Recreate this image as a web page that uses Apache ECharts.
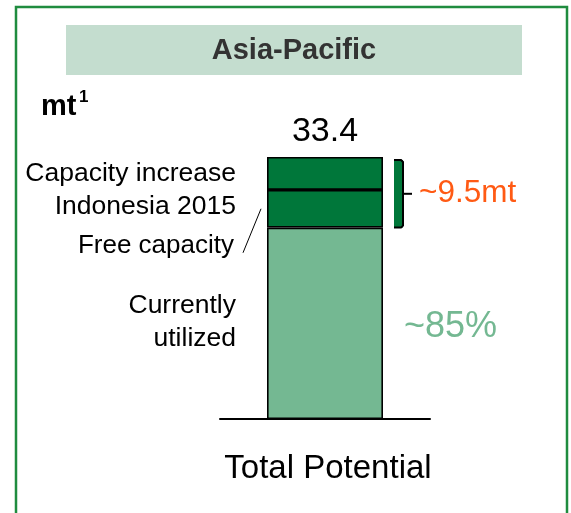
<!DOCTYPE html>
<html>
<head>
<meta charset="utf-8">
<script src="https://cdn.jsdelivr.net/npm/echarts@6/dist/echarts.min.js"></script>
<style>
  html, body { margin: 0; padding: 0; background: #ffffff; }
  #chart { width: 571px; height: 513px; }
</style>
</head>
<body>
<div id="chart"></div>
<script>
// Asia-Pacific capacity, million tonnes
var categories = ['Total Potential'];
var currentlyUtilized = [24.4];
var freeCapacity = [4.8];
var capacityIncrease = [4.2];
var segmentNames = ['Currently utilized', 'Free capacity', 'Capacity increase Indonesia 2015'];
var headroomLabel = '~9.5mt';
var utilizationLabel = '~85%';

var total = +(currentlyUtilized[0] + freeCapacity[0] + capacityIncrease[0]).toFixed(1);

var FONT = '"Liberation Sans", Arial, sans-serif';
var DARK = '#00773a';
var LIGHT = '#74b892';

var chart = echarts.init(document.getElementById('chart'), null, { renderer: 'canvas' });

function seg(name, data, color, isTop) {
  return {
    name: name,
    type: 'bar',
    stack: 'total',
    data: data,
    barWidth: 116,
    itemStyle: { color: color, borderColor: '#000', borderWidth: 1.6 },
    label: isTop ? {
      show: true,
      position: 'top',
      distance: 8,
      formatter: function () { return total.toFixed(1); },
      fontFamily: FONT,
      fontSize: 34,
      color: '#000'
    } : { show: false },
    emphasis: { disabled: true },
    silent: true
  };
}

chart.setOption({
  animation: false,
  grid: { left: 220, right: 141, top: 157, bottom: 94 },
  xAxis: {
    type: 'category',
    data: categories,
    axisLine: { lineStyle: { color: '#000', width: 2 } },
    axisTick: { show: false },
    axisLabel: { fontFamily: FONT, fontSize: 33, color: '#000', margin: 33, padding: [0, 0, 0, 6] }
  },
  yAxis: { type: 'value', min: 0, max: total, show: false, splitLine: { show: false } },
  series: [
    seg(segmentNames[0], currentlyUtilized, LIGHT, false),
    seg(segmentNames[1], freeCapacity, DARK, false),
    seg(segmentNames[2], capacityIncrease, DARK, true)
  ]
});

// Annotations anchored to the bar's scale
var x0 = chart.convertToPixel({ gridIndex: 0 }, [0, 0]);
var yUtil = chart.convertToPixel({ gridIndex: 0 }, [0, currentlyUtilized[0]])[1];
var yFree = chart.convertToPixel({ gridIndex: 0 }, [0, currentlyUtilized[0] + freeCapacity[0]])[1];
var yTop = chart.convertToPixel({ gridIndex: 0 }, [0, total])[1];
var barLeft = x0[0] - 58;
var barRight = x0[0] + 58;

var bx = barRight + 11;
var by0 = yTop + 3;
var by1 = yUtil;
var bmid = (by0 + by1) / 2;
var freeMid = (yUtil + yFree) / 2;

var textStyle = function (t, x, y, size, color, align, weight) {
  return {
    type: 'text', x: x, y: y, silent: true,
    style: {
      text: t, fontFamily: FONT, fontSize: size, fill: color,
      align: align || 'right', verticalAlign: 'middle', fontWeight: weight || 'normal'
    }
  };
};

chart.setOption({
  graphic: [
    // outer frame
    { type: 'rect', shape: { x: 16, y: 7, width: 551, height: 560 },
      style: { fill: 'none', stroke: '#1f8c3f', lineWidth: 2.5 }, silent: true },
    // header band
    { type: 'rect', shape: { x: 66, y: 25, width: 456, height: 50 },
      style: { fill: '#c4ddcf' }, silent: true },
    textStyle('Asia-Pacific', 294, 51, 29, '#333333', 'center', 'bold'),
    // unit
    { type: 'text', x: 41, y: 107, silent: true,
      style: { text: 'mt', fontFamily: FONT, fontSize: 29, fontWeight: 'bold', fill: '#000',
               align: 'left', verticalAlign: 'middle' } },
    { type: 'text', x: 79, y: 97, silent: true,
      style: { text: '1', fontFamily: FONT, fontSize: 17, fontWeight: 'bold', fill: '#000',
               align: 'left', verticalAlign: 'middle' } },
    // segment labels
    textStyle('Capacity increase', 236, 174, 26.5, '#000'),
    textStyle('Indonesia 2015', 236, 207, 26.5, '#000'),
    textStyle('Free capacity', 234, 246, 26, '#000'),
    textStyle('Currently', 236, 306, 26.5, '#000'),
    textStyle('utilized', 236, 339, 26.5, '#000'),
    // leader line to free capacity segment
    { type: 'line', shape: { x1: barLeft - 6, y1: freeMid, x2: barLeft - 24, y2: freeMid + 44 },
      style: { stroke: '#000', lineWidth: 1 }, silent: true },
    // bracket over the two dark segments
    { type: 'rect', shape: { x: bx, y: by0, width: 9, height: by1 - by0 },
      style: { fill: DARK }, silent: true },
    { type: 'polyline', silent: true,
      shape: { points: [[bx, by0], [bx + 7, by0], [bx + 9, by0 + 2], [bx + 9, by1 - 2], [bx + 7, by1], [bx, by1]] },
      style: { fill: 'none', stroke: '#000', lineWidth: 2 } },
    { type: 'line', shape: { x1: bx + 9, y1: bmid, x2: bx + 18, y2: bmid },
      style: { stroke: '#000', lineWidth: 2 }, silent: true },
    textStyle(headroomLabel, bx + 25, bmid, 31.5, '#ff5a14', 'left'),
    textStyle(utilizationLabel, 404, 327, 36, '#74b892', 'left')
  ]
});
</script>
</body>
</html>
